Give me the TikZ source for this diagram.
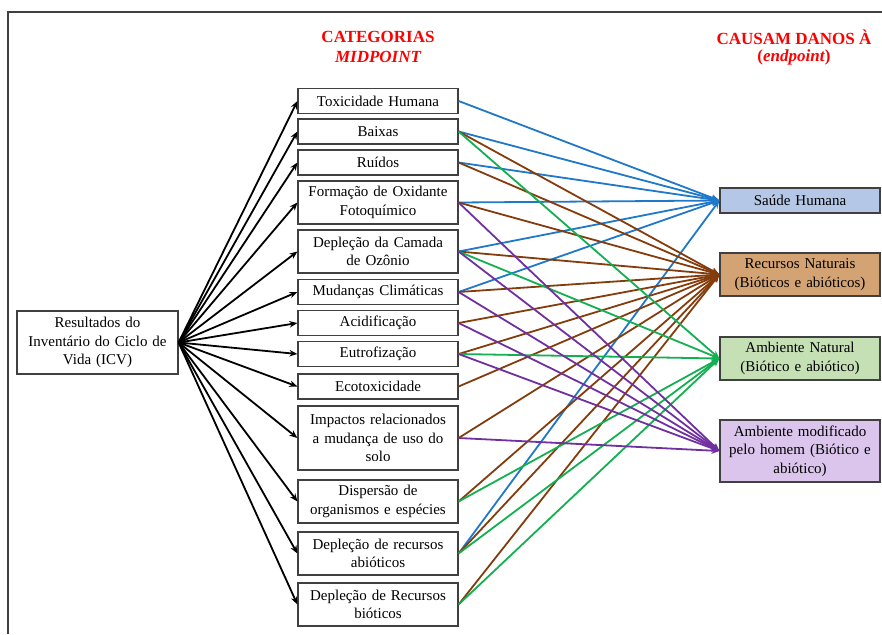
\documentclass[tikz,border=0pt]{standalone}
\usepackage{fontspec}
\setmainfont{Liberation Serif}
\usetikzlibrary{arrows.meta}
\definecolor{cblue}{HTML}{1F78C8}
\definecolor{cbrown}{HTML}{843C0C}
\definecolor{cgreen}{HTML}{12B050}
\definecolor{cpurple}{HTML}{7030A0}
\definecolor{fblue}{HTML}{B4C7E7}
\definecolor{fbrown}{HTML}{D4A373}
\definecolor{fgreen}{HTML}{C5E0B4}
\definecolor{fpurple}{HTML}{DCC5EC}
\definecolor{bord}{HTML}{404040}
\definecolor{titred}{HTML}{FF0000}
\begin{document}
\begin{tikzpicture}[x=1pt,y=-1pt,
  box/.style={draw=bord,line width=1.2pt,minimum width=160pt,text width=154pt,align=center,inner sep=1pt,
    font=\fontsize{15}{18.5}\selectfont},
  one/.style={box,minimum height=25pt},
  two/.style={box,minimum height=43pt},
  three/.style={box,minimum height=64pt},
  titl/.style={text=titred,font=\fontsize{17}{20}\selectfont\bfseries,align=center},
  blk/.style={line width=1.8pt,-{Stealth[length=8pt,width=6.5pt]}},
  con/.style={line width=1.8pt,-{Stealth[length=8pt,width=6.5pt]}},
]
\useasboundingbox (0,0) rectangle (882,634);
\draw[bord,line width=1.2pt] (8,634) -- (8,12) -- (882,12);

\node[titl] (t1) at (378,37) {CATEGORIAS};
\node[titl,font=\fontsize{17}{20}\selectfont\bfseries\itshape] (t2) at (378,57) {MIDPOINT};
\node[titl] (t3) at (794,37) {CAUSAM DANOS À};
\node[titl] (t4) at (794,57) {(\textit{endpoint})};

\node[box,minimum width=161pt,minimum height=63pt] (res) at (97.5,342.5) {Resultados do\\Inventário do Ciclo de\\Vida (ICV)};

\node[one] (m1) at (378,101) {Toxicidade Humana};
\node[one] (m2) at (378,131.5) {Baixas};
\node[one] (m3) at (378,162.5) {Ruídos};
\node[two] (m4) at (378,202.5) {Formação de Oxidante\\Fotoquímico};
\node[two] (m5) at (378,251.5) {Depleção da Camada\\de Ozônio};
\node[one] (m6) at (378,292) {Mudanças Climáticas};
\node[one] (m7) at (378,323) {Acidificação};
\node[one] (m8) at (378,354) {Eutrofização};
\node[one] (m9) at (378,386.5) {Ecotoxicidade};
\node[three] (m10) at (378,438) {Impactos relacionados\\a mudança de uso do\\solo};
\node[two] (m11) at (378,501.5) {Dispersão de\\organismos e espécies};
\node[two] (m12) at (378,553.5) {Depleção de recursos\\abióticos};
\node[two] (m13) at (378,604.5) {Depleção de Recursos\\bióticos};

\node[one,fill=fblue] (ra) at (800,200.5) {Saúde Humana};
\node[two,fill=fbrown] (rb) at (800,274.5) {Recursos Naturais\\(Bióticos e abióticos)};
\node[two,fill=fgreen] (rc) at (800,358.5) {Ambiente Natural\\(Biótico e abiótico)};
\node[three,fill=fpurple,minimum height=62pt] (rd) at (800,451) {Ambiente modificado\\pelo homem (Biótico e\\abiótico)};

\foreach \m in {m1,m2,m3,m4,m5,m6,m7,m8,m9,m10,m11,m12,m13}
  \draw[blk] (res.east) -- (\m.west);

\foreach \m in {m1,m2,m3,m4,m5,m6,m12}
  \draw[con,cblue] (\m.east) -- (ra.west);
\foreach \m in {m2,m3,m4,m5,m6,m7,m8,m9,m10,m11,m12,m13}
  \draw[con,cbrown] (\m.east) -- (rb.west);
\foreach \m in {m2,m5,m8,m11,m12,m13}
  \draw[con,cgreen] (\m.east) -- (rc.west);
\foreach \m in {m4,m5,m6,m7,m8,m10}
  \draw[con,cpurple] (\m.east) -- (rd.west);
\end{tikzpicture}
\end{document}
